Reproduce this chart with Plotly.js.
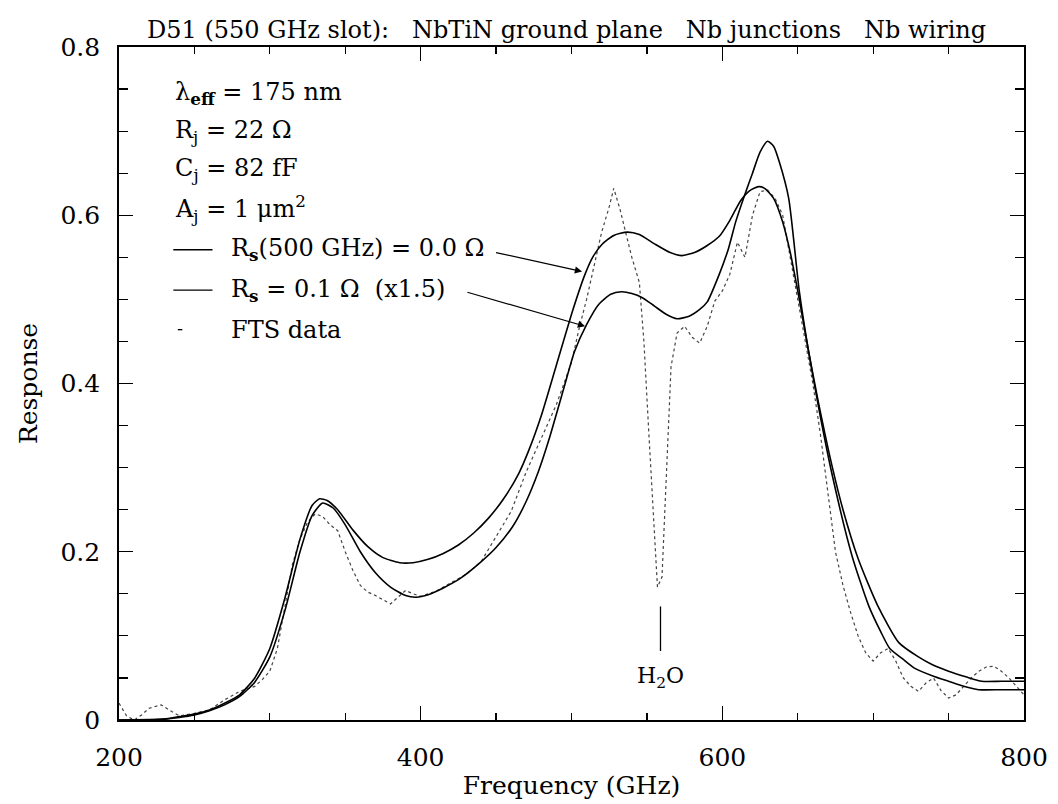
<!DOCTYPE html>
<html>
<head>
<meta charset="utf-8">
<script src="https://cdn.plot.ly/plotly-3.0.1.min.js"></script>
<style>
html,body{margin:0;padding:0;background:#fff;}
#chart{width:1058px;height:804px;}
</style>
</head>
<body>
<div id="chart"></div>
<script>
// Model curve: Rs(500 GHz) = 0.0 Ohm
const fRs0 = [200,220,230,240,250,260,270,280,290,300,310,320,328,333,338,345,355,365,375,386,395,405,415,425,435,445,455,465,472,480,490,501,509,514,520,528,537,545,555,565,573,582,590,598,605,612,618,624,628,634,640,645,650,657,664,673,680,690,703,717,730,739,750,762,772,785,800];
const rRs0 = [0,0,0.001,0.004,0.007,0.012,0.02,0.03,0.05,0.085,0.145,0.215,0.255,0.263,0.261,0.25,0.226,0.206,0.193,0.187,0.187,0.191,0.198,0.208,0.222,0.24,0.263,0.293,0.322,0.362,0.422,0.488,0.53,0.55,0.565,0.576,0.58,0.577,0.566,0.556,0.552,0.556,0.564,0.575,0.594,0.617,0.629,0.634,0.632,0.62,0.592,0.556,0.51,0.44,0.375,0.3,0.25,0.192,0.136,0.092,0.075,0.066,0.058,0.051,0.046,0.046,0.046];

// Model curve: Rs = 0.1 Ohm (x1.5)
const fRs01 = [200,230,240,250,260,270,280,290,300,310,320,328,335,342,350,360,370,380,390,397,405,415,426,440,450,461,470,478,485,495,502,510,518,526,533,540,547,555,563,570,578,585,590,598,604,609,615,620,625,630,634,638,644,651,657,664,673,686,697,705,711,720,728,740,750,760,770,785,800];
const rRs01 = [0,0.001,0.003,0.006,0.011,0.018,0.028,0.045,0.075,0.13,0.2,0.243,0.258,0.252,0.232,0.2,0.175,0.158,0.148,0.146,0.149,0.157,0.168,0.188,0.205,0.23,0.26,0.295,0.333,0.395,0.438,0.47,0.494,0.506,0.509,0.507,0.502,0.492,0.482,0.477,0.48,0.488,0.497,0.53,0.56,0.593,0.625,0.65,0.675,0.688,0.682,0.662,0.62,0.51,0.44,0.37,0.29,0.195,0.136,0.105,0.085,0.072,0.061,0.052,0.046,0.04,0.036,0.036,0.036];

// FTS data
const fFts = [200,205,210,215,220,228,235,240,250,260,270,280,290,295,300,305,310,315,320,325,330,335,340,345,350,355,360,365,370,375,380,385,390,395,400,410,420,430,440,450,460,470,480,490,500,505,510,515,520,525,528,532,536,540,545,548,551,554,557,560,563,566,570,575,580,585,590,595,600,605,610,615,620,625,630,635,640,645,650,655,660,665,670,675,680,685,690,695,700,705,710,715,720,725,730,735,740,745,750,755,760,765,770,775,780,785,790,795,800];
const rFts = [0.02,0.005,0.0,0.006,0.014,0.018,0.01,0.005,0.008,0.012,0.024,0.034,0.04,0.048,0.058,0.085,0.135,0.185,0.215,0.235,0.245,0.242,0.232,0.225,0.2,0.178,0.16,0.152,0.148,0.143,0.138,0.146,0.154,0.15,0.147,0.153,0.163,0.173,0.188,0.218,0.248,0.295,0.335,0.375,0.425,0.465,0.5,0.54,0.58,0.61,0.632,0.608,0.58,0.55,0.52,0.45,0.35,0.25,0.158,0.17,0.3,0.42,0.46,0.468,0.455,0.448,0.468,0.498,0.51,0.53,0.568,0.55,0.6,0.628,0.63,0.62,0.6,0.55,0.5,0.45,0.4,0.34,0.27,0.2,0.16,0.128,0.1,0.08,0.07,0.08,0.085,0.07,0.05,0.04,0.034,0.044,0.05,0.035,0.026,0.03,0.04,0.05,0.058,0.063,0.064,0.058,0.05,0.04,0.03];

const xTickVals = [200,400,600,800];
const yTickVals = [0,0.2,0.4,0.6,0.8];
const yTickText = ['0','0.2','0.4','0.6','0.8'];

const SERIF = '"DejaVu Serif", "Liberation Serif", serif';
const NB = '\u00A0';
const GAP = NB + NB + NB;

const traces = [
  {x: fFts, y: rFts, mode: 'lines', name: 'FTS data',
   line: {color: '#444', width: 1.2, dash: 'dot'}},
  {x: fRs0, y: rRs0, mode: 'lines', name: 'Rs(500 GHz) = 0.0 Ω',
   line: {color: '#000', width: 1.6, shape: 'spline', smoothing: 0.6}},
  {x: fRs01, y: rRs01, mode: 'lines', name: 'Rs = 0.1 Ω (x1.5)',
   line: {color: '#000', width: 1.6, shape: 'spline', smoothing: 0.6}}
];

const legendFont = {family: SERIF, size: 24, color: '#000'};
function note(x, y, text, extra) {
  return Object.assign({x: x, y: y, xref: 'x', yref: 'y', text: text, showarrow: false,
    xanchor: 'left', yanchor: 'middle', font: legendFont}, extra || {});
}

const annotations = [
  {xref: 'paper', yref: 'paper', x: 0.495, y: 1.0, yanchor: 'bottom', xanchor: 'center', yshift: 1,
   text: 'D51 (550 GHz slot):' + GAP + 'NbTiN ground plane' + GAP + 'Nb junctions' + GAP + 'Nb wiring',
   showarrow: false, font: {family: SERIF, size: 24, color: '#000'}},
  note(236, 0.745, 'λ<sub><b>eff</b></sub> = 175 nm'),
  note(236, 0.699, 'R<sub>j</sub> = 22 Ω'),
  note(236, 0.654, 'C<sub>j</sub> = 82 fF'),
  note(236, 0.608, 'A<sub>j</sub> = 1 μm<sup>2</sup>'),
  note(273, 0.559, 'R<sub><b>s</b></sub>(500 GHz) = 0.0 Ω'),
  note(273, 0.511, 'R<sub><b>s</b></sub> = 0.1 Ω' + NB + NB + '(x1.5)'),
  note(273, 0.464, 'FTS data'),
  // arrows
  {x: 507, y: 0.533, xref: 'x', yref: 'y', ax: 449, ay: 0.556, axref: 'x', ayref: 'y',
   text: '', showarrow: true, arrowhead: 2, arrowsize: 1.2, arrowwidth: 1.2, arrowcolor: '#000'},
  {x: 509, y: 0.468, xref: 'x', yref: 'y', ax: 430, ay: 0.509, axref: 'x', ayref: 'y',
   text: '', showarrow: true, arrowhead: 2, arrowsize: 1.2, arrowwidth: 1.2, arrowcolor: '#000'},
  {x: 559, y: 0.05, xref: 'x', yref: 'y', text: 'H<sub>2</sub>O', showarrow: false,
   xanchor: 'center', yanchor: 'middle', font: {family: SERIF, size: 22, color: '#000'}}
];

const shapes = [
  {type: 'line', xref: 'x', yref: 'y', x0: 236, x1: 262, y0: 0.559, y1: 0.559, line: {color: '#000', width: 1.3}},
  {type: 'line', xref: 'x', yref: 'y', x0: 236, x1: 262, y0: 0.511, y1: 0.511, line: {color: '#000', width: 1.3}},
  {type: 'line', xref: 'x', yref: 'y', x0: 239, x1: 242, y0: 0.464, y1: 0.464, line: {color: '#000', width: 1.3}},
  {type: 'line', xref: 'x', yref: 'y', x0: 559, x1: 559, y0: 0.082, y1: 0.135, line: {color: '#000', width: 1.3}}
];

const axisCommon = {
  showgrid: false, zeroline: false, showline: true, linecolor: '#000', linewidth: 1.8,
  mirror: 'ticks', ticks: 'inside', tickcolor: '#000', tickwidth: 1.3,
  tickfont: {family: SERIF, size: 25, color: '#000'}
};

const layout = {
  width: 1058, height: 804,
  margin: {l: 119, r: 34, t: 47, b: 84},
  paper_bgcolor: '#fff', plot_bgcolor: '#fff',
  showlegend: false,
  xaxis: Object.assign({}, axisCommon, {
    range: [200, 800], tickvals: xTickVals, ticklen: 14, ticklabelstandoff: 14,
    minor: {dtick: 50, ticks: 'inside', ticklen: 7, tickcolor: '#000', tickwidth: 1.2},
    title: {text: 'Frequency (GHz)', font: {family: SERIF, size: 25, color: '#000'}, standoff: 6}
  }),
  yaxis: Object.assign({}, axisCommon, {
    range: [0, 0.8], tickvals: yTickVals, ticktext: yTickText, ticklen: 14, ticklabelstandoff: 12,
    minor: {dtick: 0.05, ticks: 'inside', ticklen: 9, tickcolor: '#000', tickwidth: 1.2},
    title: {text: 'Response', font: {family: SERIF, size: 25, color: '#000'}, standoff: 16}
  }),
  annotations: annotations,
  shapes: shapes
};

Plotly.newPlot('chart', traces, layout, {staticPlot: true, displayModeBar: false});
</script>
</body>
</html>
